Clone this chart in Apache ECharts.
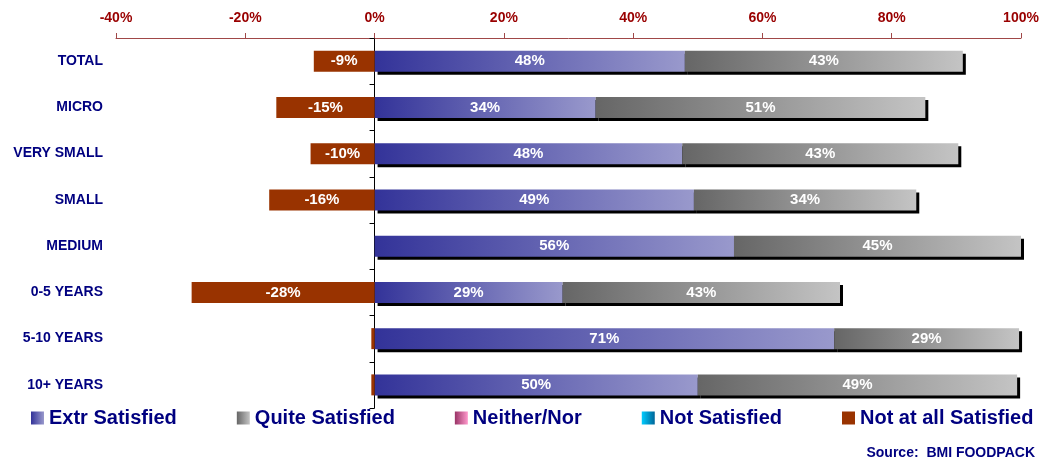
<!DOCTYPE html>
<html>
<head>
<meta charset="utf-8">
<script src="https://cdn.jsdelivr.net/npm/echarts@6/dist/echarts.min.js"></script>
<style>html,body{margin:0;padding:0;background:#fff;}#chart{width:1042px;height:463px;}</style>
</head>
<body>
<div id="chart"></div>
<script>
const categories = ['TOTAL','MICRO','VERY SMALL','SMALL','MEDIUM','0-5 YEARS','5-10 YEARS','10+ YEARS'];
const extrSatisfied = [48, 34.2, 47.6, 49.4, 55.6, 29.1, 71.1, 50.0];
const quiteSatisfied = [43, 51, 42.7, 34.4, 44.6, 42.9, 28.6, 49.4];
const neitherNor = [0, 0, 0, 0, 0, 0, 0, 0];
const notSatisfied = [0, 0, 0, 0, 0, 0, 0, 0];
const notAtAllSatisfied = [-9.4, -15.2, -9.9, -16.3, 0, -28.3, -0.5, -0.5];
const xTicks = {min: -40, max: 100, interval: 20};

const FONT = "'Liberation Sans', Arial, sans-serif";
const grad = (a, b) => new echarts.graphic.LinearGradient(0, 0, 1, 0, [{offset: 0, color: a}, {offset: 1, color: b}]);
const labelFmt = p => Math.abs(p.value) >= 1 ? Math.round(p.value) + '%' : '';
const label = {show: true, position: 'inside', color: '#fff', fontWeight: 'bold', fontSize: 15, fontFamily: FONT, formatter: labelFmt};
const shadow = {shadowColor: '#000', shadowOffsetX: 3, shadowOffsetY: 3, shadowBlur: 0};

const chart = echarts.init(document.getElementById('chart'));
chart.setOption({
  animation: false,
  backgroundColor: '#fff',
  grid: {left: 116, right: 21, top: 38, bottom: 55, containLabel: false},
  xAxis: {
    type: 'value', position: 'top', min: xTicks.min, max: xTicks.max, interval: xTicks.interval,
    axisLine: {show: true, lineStyle: {color: '#a04848', width: 1}},
    axisTick: {show: true, length: 5, lineStyle: {color: '#a04848'}},
    splitLine: {show: false},
    axisLabel: {formatter: '{value}%', color: '#990000', fontWeight: 'bold', fontSize: 14, fontFamily: FONT, margin: 13}
  },
  yAxis: [
    {
      type: 'category', data: categories, inverse: true, position: 'left',
      axisLine: {show: false, onZero: false}, axisTick: {show: false},
      axisLabel: {color: '#000080', fontWeight: 'bold', fontSize: 14, fontFamily: FONT, margin: 13}
    },
    {
      type: 'category', data: categories, inverse: true, position: 'left',
      axisLine: {show: true, onZero: true, lineStyle: {color: '#000', width: 1}},
      axisTick: {show: true, length: 5, lineStyle: {color: '#000'}},
      axisLabel: {show: false}
    }
  ],
  legend: {
    left: 31, right: 0, top: 408, padding: 0, itemWidth: 13, itemHeight: 13, itemGap: 60, icon: 'rect',
    textStyle: {color: '#000080', fontWeight: 'bold', fontSize: 20, fontFamily: FONT},
    data: ['Extr Satisfied', 'Quite Satisfied', 'Neither/Nor', 'Not Satisfied', 'Not at all Satisfied']
  },
  graphic: [{
    type: 'text', right: 7, top: 446,
    style: {text: 'Source:  BMI FOODPACK', fill: '#000080', font: 'bold 14px ' + FONT}
  }],
  series: [
    {name: 'Extr Satisfied', type: 'bar', stack: 'a', barWidth: 21, data: extrSatisfied,
     itemStyle: Object.assign({color: grad('#333399', '#9999cc')}, shadow), label: label},
    {name: 'Quite Satisfied', type: 'bar', stack: 'a', barWidth: 21, data: quiteSatisfied,
     itemStyle: Object.assign({color: grad('#666666', '#c4c4c4')}, shadow), label: label},
    {name: 'Neither/Nor', type: 'bar', stack: 'a', barWidth: 21, data: neitherNor,
     itemStyle: {color: grad('#993366', '#ff99cc')}, label: {show: false}},
    {name: 'Not Satisfied', type: 'bar', stack: 'a', barWidth: 21, data: notSatisfied,
     itemStyle: {color: grad('#00ccff', '#006699')}, label: {show: false}},
    {name: 'Not at all Satisfied', type: 'bar', stack: 'a', barWidth: 21, data: notAtAllSatisfied,
     itemStyle: {color: '#993300'}, label: label}
  ]
});
</script>
</body>
</html>
